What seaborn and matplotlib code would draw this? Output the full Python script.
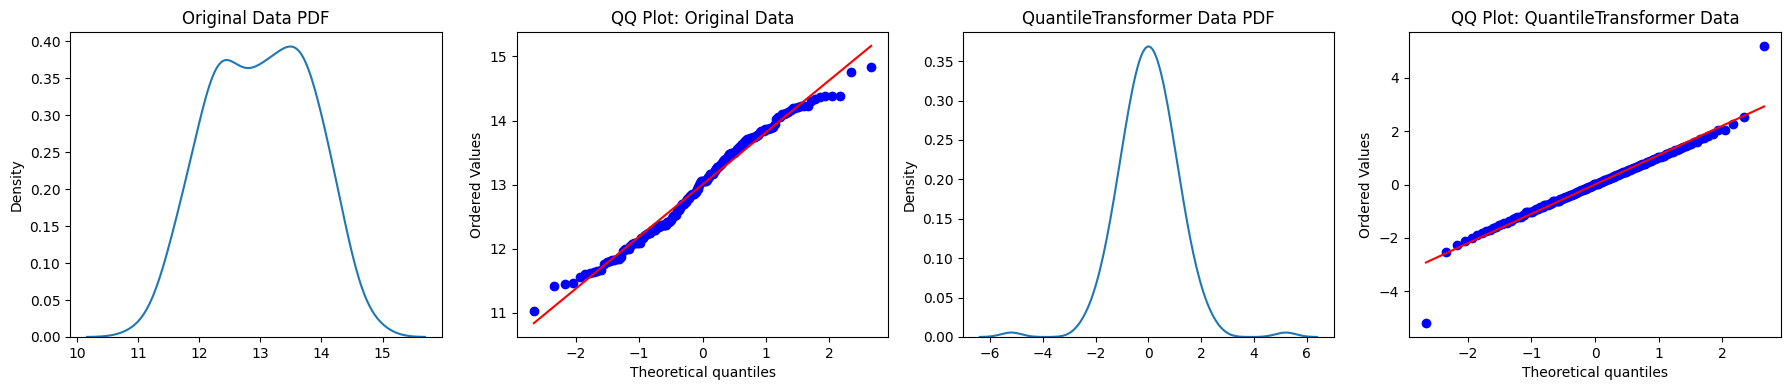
import numpy as np
import pandas as pd
import matplotlib
matplotlib.use("Agg")
import matplotlib.pyplot as plt
import seaborn as sns
from statistics import NormalDist

# Alcohol values (three groups)
alcohol_group_1 = [14.23, 13.2, 13.16, 14.37, 13.24, 14.2, 14.39, 14.06, 14.83, 13.86,
                   14.1, 14.12, 13.75, 14.75, 14.38, 13.63, 14.3, 13.83, 14.19, 13.64,
                   14.06, 12.93, 13.71, 12.85, 13.5, 13.05, 13.39, 13.3, 13.87, 14.02,
                   13.73, 13.58, 13.68, 13.76, 13.51, 13.48, 13.28, 13.05, 13.07, 14.22,
                   13.56, 13.41, 13.88, 13.24, 13.05, 14.21, 14.38, 13.9, 14.1, 13.94,
                   13.05, 13.83, 13.82, 13.77, 13.74, 13.56, 14.22, 13.29, 13.72]
alcohol_group_2 = [12.37, 12.33, 12.64, 13.67, 12.37, 12.17, 12.37, 13.11, 12.37, 13.34,
                   12.21, 12.29, 13.86, 13.49, 12.99, 11.96, 11.66, 13.03, 11.84, 12.33,
                   12.7, 12.0, 12.72, 12.08, 13.05, 11.84, 12.67, 12.16, 11.65, 11.64,
                   12.08, 12.08, 12.0, 12.69, 12.29, 11.62, 12.47, 11.81, 12.29, 12.37,
                   12.29, 12.08, 12.6, 12.34, 11.82, 12.51, 12.42, 12.25, 12.72, 12.22,
                   11.61, 11.46, 12.52, 11.76, 11.41, 12.08, 11.03, 11.82, 12.42, 12.77,
                   12.0, 11.45, 11.56, 12.42, 13.05, 11.87, 12.07, 12.43, 11.79, 12.37, 12.04]
alcohol_group_3 = [12.86, 12.88, 12.81, 12.7, 12.51, 12.6, 12.25, 12.53, 13.49, 12.84,
                   12.93, 13.36, 13.52, 13.62, 12.25, 13.16, 13.88, 12.87, 13.32, 13.08,
                   13.5, 12.79, 13.11, 13.23, 12.58, 13.17, 13.84, 12.45, 14.34, 13.48,
                   12.36, 13.69, 12.85, 12.96, 13.78, 13.73, 13.45, 12.82, 13.58, 13.4,
                   12.2, 12.77, 14.16, 13.71, 13.4, 13.27, 13.17, 14.13]

titles = ["Original Data PDF", "QQ Plot: Original Data",
          "QuantileTransformer Data PDF", "QQ Plot: QuantileTransformer Data"]

original = np.array(alcohol_group_1 + alcohol_group_2 + alcohol_group_3, dtype=float)
_nd = NormalDist()
_ppf = np.vectorize(_nd.inv_cdf)


def quantile_to_normal(x):
    bounds = 1e-7
    n_q = min(1000, len(x))
    refs = np.linspace(0, 1, n_q)
    q = np.maximum.accumulate(np.nanpercentile(x, refs * 100))
    u = 0.5 * (np.interp(x, q, refs) - np.interp(-x, -q[::-1], -refs[::-1]))
    u[x + bounds > q[-1]] = 1.0
    u[x - bounds < q[0]] = 0.0
    eps = bounds - np.spacing(1)
    u = np.clip(u, eps, 1 - eps)
    return _ppf(u)


def theoretical_quantiles(n):
    m = np.empty(n)
    m[-1] = 0.5 ** (1.0 / n)
    m[0] = 1 - m[-1]
    i = np.arange(2, n)
    m[1:-1] = (i - 0.3175) / (n + 0.365)
    return _ppf(m)


transformed = quantile_to_normal(original)

fig, axes = plt.subplots(1, 4, figsize=(17.89, 3.9), dpi=100)
W, H = 1789, 390
boxes = [(70, 442), (517, 888), (963, 1334), (1409, 1781)]
top_px, bot_px = 32, 337
for ax, (l, r) in zip(axes, boxes):
    ax.set_position([l / W, 1 - bot_px / H, (r - l) / W, (bot_px - top_px) / H])


def qq(ax, data, title):
    osr = np.sort(data)
    osm = theoretical_quantiles(len(osr))
    slope, intercept = np.polyfit(osm, osr, 1)
    ax.plot(osm, osr, "bo", markersize=6)
    ax.plot(osm, slope * osm + intercept, "r-")
    ax.set_xlabel("Theoretical quantiles")
    ax.set_ylabel("Ordered Values")
    ax.set_title(title)


sns.kdeplot(x=original, ax=axes[0])
axes[0].set_title(titles[0])
qq(axes[1], original, titles[1])
sns.kdeplot(x=transformed, ax=axes[2])
axes[2].set_title(titles[2])
qq(axes[3], transformed, titles[3])

fig.savefig("out.png", dpi=100)
